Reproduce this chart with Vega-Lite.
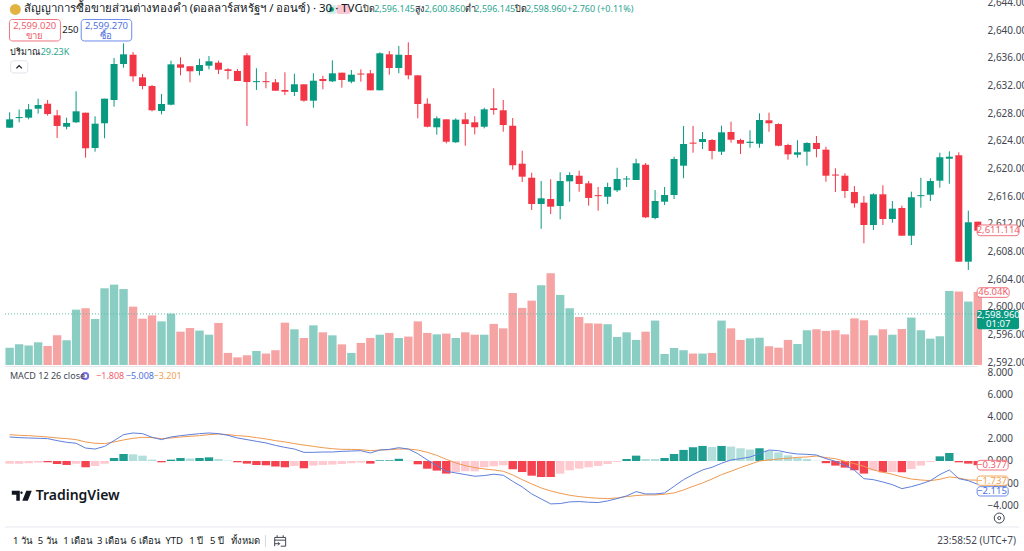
{"$schema":"https://vega.github.io/schema/vega-lite/v6.json","width":1024,"height":551,"autosize":{"type":"none"},"padding":0,"background":"#ffffff","config":{"view":{"stroke":null},"font":"Noto Sans"},
"datasets":{"bars":[
{"i":0,"o":2625.91,"h":2628.14,"l":2625.87,"c":2627.12,"v":10.9,"m":2.17,"s":2.38,"d":-0.25,"k":"rl"},
{"i":1,"o":2627.3,"h":2628.54,"l":2626.69,"c":2627.45,"v":13.0,"m":2.11,"s":2.32,"d":-0.25,"k":"rl"},
{"i":2,"o":2627.36,"h":2629.34,"l":2627.12,"c":2628.57,"v":12.2,"m":2.08,"s":2.29,"d":-0.2,"k":"rl"},
{"i":3,"o":2628.66,"h":2630.11,"l":2627.94,"c":2629.19,"v":14.3,"m":2.05,"s":2.23,"d":-0.15,"k":"rl"},
{"i":4,"o":2629.38,"h":2629.92,"l":2627.65,"c":2627.89,"v":12.0,"m":2.02,"s":2.17,"d":-0.12,"k":"rs"},
{"i":5,"o":2627.7,"h":2628.47,"l":2624.42,"c":2626.16,"v":18.7,"m":1.84,"s":2.08,"d":-0.27,"k":"rs"},
{"i":6,"o":2626.05,"h":2627.36,"l":2625.68,"c":2626.59,"v":15.6,"m":1.69,"s":2.02,"d":-0.36,"k":"rs"},
{"i":7,"o":2626.69,"h":2631.18,"l":2626.59,"c":2628.28,"v":34.9,"m":1.6,"s":1.93,"d":-0.25,"k":"rl"},
{"i":8,"o":2628.08,"h":2628.08,"l":2621.57,"c":2622.93,"v":35.8,"m":1.17,"s":1.72,"d":-0.57,"k":"rs"},
{"i":9,"o":2622.97,"h":2627.56,"l":2622.44,"c":2626.49,"v":29.0,"m":1.08,"s":1.6,"d":-0.45,"k":"rl"},
{"i":10,"o":2626.55,"h":2630.11,"l":2624.38,"c":2630.11,"v":48.4,"m":1.32,"s":1.57,"d":-0.25,"k":"rl"},
{"i":11,"o":2629.92,"h":2636.0,"l":2628.95,"c":2635.13,"v":50.7,"m":1.84,"s":1.72,"d":0.27,"k":"gs"},
{"i":12,"o":2635.13,"h":2638.12,"l":2634.59,"c":2636.53,"v":47.9,"m":2.38,"s":1.9,"d":0.63,"k":"gs"},
{"i":13,"o":2636.47,"h":2636.86,"l":2632.57,"c":2633.35,"v":36.8,"m":2.53,"s":2.05,"d":0.6,"k":"gl"},
{"i":14,"o":2633.2,"h":2633.68,"l":2631.47,"c":2631.94,"v":29.2,"m":2.47,"s":2.14,"d":0.48,"k":"gl"},
{"i":15,"o":2631.94,"h":2632.09,"l":2628.28,"c":2628.43,"v":31.3,"m":2.14,"s":2.11,"d":0.12,"k":"gl"},
{"i":16,"o":2628.33,"h":2630.79,"l":2627.85,"c":2629.34,"v":27.5,"m":1.93,"s":2.02,"d":-0.12,"k":"rs"},
{"i":17,"o":2629.24,"h":2635.61,"l":2629.15,"c":2635.08,"v":32.4,"m":2.17,"s":2.08,"d":0.12,"k":"gs"},
{"i":18,"o":2635.08,"h":2636.1,"l":2633.49,"c":2634.59,"v":21.0,"m":2.29,"s":2.17,"d":0.27,"k":"gs"},
{"i":19,"o":2634.8,"h":2634.8,"l":2632.48,"c":2634.07,"v":23.3,"m":2.38,"s":2.23,"d":0.22,"k":"gl"},
{"i":20,"o":2634.12,"h":2635.89,"l":2633.49,"c":2634.98,"v":21.7,"m":2.47,"s":2.29,"d":0.27,"k":"gs"},
{"i":21,"o":2634.88,"h":2636.29,"l":2634.36,"c":2635.52,"v":19.1,"m":2.53,"s":2.38,"d":0.33,"k":"gs"},
{"i":22,"o":2635.32,"h":2635.61,"l":2633.68,"c":2634.3,"v":26.5,"m":2.47,"s":2.44,"d":0.18,"k":"gl"},
{"i":23,"o":2634.36,"h":2634.51,"l":2632.91,"c":2634.12,"v":7.6,"m":2.32,"s":2.38,"d":0.04,"k":"gl"},
{"i":24,"o":2634.12,"h":2634.4,"l":2632.67,"c":2632.67,"v":4.8,"m":2.08,"s":2.29,"d":-0.12,"k":"rs"},
{"i":25,"o":2636.39,"h":2636.68,"l":2626.16,"c":2632.52,"v":6.1,"m":1.93,"s":2.23,"d":-0.24,"k":"rs"},
{"i":26,"o":2632.5,"h":2634.51,"l":2631.37,"c":2632.65,"v":8.8,"m":1.78,"s":2.11,"d":-0.36,"k":"rs"},
{"i":27,"o":2632.65,"h":2633.97,"l":2631.61,"c":2632.5,"v":7.2,"m":1.63,"s":1.99,"d":-0.39,"k":"rs"},
{"i":28,"o":2632.48,"h":2632.96,"l":2631.26,"c":2631.26,"v":9.3,"m":1.41,"s":1.84,"d":-0.5,"k":"rs"},
{"i":29,"o":2631.37,"h":2633.93,"l":2630.64,"c":2631.12,"v":26.7,"m":1.23,"s":1.72,"d":-0.57,"k":"rs"},
{"i":30,"o":2631.08,"h":2633.72,"l":2630.5,"c":2632.19,"v":22.5,"m":1.08,"s":1.57,"d":-0.45,"k":"rl"},
{"i":31,"o":2632.19,"h":2632.19,"l":2629.67,"c":2629.82,"v":17.0,"m":0.78,"s":1.44,"d":-0.66,"k":"rs"},
{"i":32,"o":2629.82,"h":2633.78,"l":2628.8,"c":2632.71,"v":25.0,"m":0.78,"s":1.32,"d":-0.42,"k":"rl"},
{"i":33,"o":2632.96,"h":2633.43,"l":2631.47,"c":2632.67,"v":20.6,"m":0.81,"s":1.2,"d":-0.36,"k":"rl"},
{"i":34,"o":2632.62,"h":2635.66,"l":2632.52,"c":2633.78,"v":18.7,"m":0.81,"s":1.11,"d":-0.33,"k":"rl"},
{"i":35,"o":2633.87,"h":2633.87,"l":2631.7,"c":2632.81,"v":13.0,"m":0.87,"s":1.05,"d":-0.27,"k":"rl"},
{"i":36,"o":2632.57,"h":2634.26,"l":2632.33,"c":2633.58,"v":7.6,"m":0.9,"s":1.05,"d":-0.2,"k":"rl"},
{"i":37,"o":2633.75,"h":2634.36,"l":2632.57,"c":2633.6,"v":13.9,"m":0.93,"s":1.02,"d":-0.15,"k":"rl"},
{"i":38,"o":2633.78,"h":2634.26,"l":2631.32,"c":2631.32,"v":17.0,"m":0.72,"s":0.93,"d":-0.24,"k":"rs"},
{"i":39,"o":2631.32,"h":2636.82,"l":2631.32,"c":2636.68,"v":19.1,"m":0.99,"s":0.99,"d":0.06,"k":"gs"},
{"i":40,"o":2636.53,"h":2637.01,"l":2633.58,"c":2634.55,"v":20.2,"m":1.05,"s":1.02,"d":0.06,"k":"gs"},
{"i":41,"o":2634.55,"h":2637.73,"l":2633.78,"c":2636.47,"v":17.0,"m":1.2,"s":1.08,"d":0.2,"k":"gs"},
{"i":42,"o":2636.43,"h":2638.27,"l":2632.91,"c":2633.49,"v":17.9,"m":1.08,"s":1.08,"d":0.03,"k":"gl"},
{"i":43,"o":2633.49,"h":2633.49,"l":2627.27,"c":2629.34,"v":27.5,"m":0.66,"s":0.99,"d":-0.3,"k":"rs"},
{"i":44,"o":2629.38,"h":2630.16,"l":2625.97,"c":2626.05,"v":20.2,"m":0.09,"s":0.78,"d":-0.7,"k":"rs"},
{"i":45,"o":2625.97,"h":2627.56,"l":2624.9,"c":2627.27,"v":19.3,"m":-0.42,"s":0.51,"d":-0.87,"k":"rs"},
{"i":46,"o":2627.12,"h":2627.12,"l":2623.65,"c":2623.88,"v":19.8,"m":-0.93,"s":0.15,"d":-1.14,"k":"rs"},
{"i":47,"o":2623.8,"h":2627.27,"l":2623.7,"c":2627.07,"v":17.0,"m":-1.08,"s":-0.18,"d":-1.0,"k":"rl"},
{"i":48,"o":2627.12,"h":2628.08,"l":2623.3,"c":2626.44,"v":20.6,"m":-1.23,"s":-0.42,"d":-0.93,"k":"rl"},
{"i":49,"o":2626.69,"h":2627.56,"l":2624.95,"c":2625.97,"v":19.1,"m":-1.38,"s":-0.6,"d":-0.93,"k":"rl"},
{"i":50,"o":2626.05,"h":2628.8,"l":2625.82,"c":2628.57,"v":19.1,"m":-1.32,"s":-0.72,"d":-0.57,"k":"rl"},
{"i":51,"o":2628.72,"h":2631.61,"l":2627.79,"c":2628.47,"v":25.9,"m":-1.2,"s":-0.81,"d":-0.48,"k":"rl"},
{"i":52,"o":2628.43,"h":2629.92,"l":2625.33,"c":2626.3,"v":23.1,"m":-1.29,"s":-0.93,"d":-0.39,"k":"rl"},
{"i":53,"o":2626.2,"h":2627.31,"l":2619.83,"c":2620.47,"v":45.4,"m":-1.84,"s":-1.26,"d":-0.75,"k":"rs"},
{"i":54,"o":2620.7,"h":2622.58,"l":2618.05,"c":2618.82,"v":36.0,"m":-2.35,"s":-1.69,"d":-1.0,"k":"rs"},
{"i":55,"o":2618.67,"h":2619.4,"l":2614.0,"c":2614.87,"v":40.6,"m":-2.98,"s":-2.08,"d":-1.33,"k":"rs"},
{"i":56,"o":2614.87,"h":2618.2,"l":2611.29,"c":2615.69,"v":50.3,"m":-3.43,"s":-2.44,"d":-1.45,"k":"rs"},
{"i":57,"o":2615.59,"h":2618.44,"l":2613.42,"c":2614.48,"v":57.8,"m":-3.88,"s":-2.71,"d":-1.45,"k":"rs"},
{"i":58,"o":2614.58,"h":2619.46,"l":2612.65,"c":2618.2,"v":44.2,"m":-3.85,"s":-2.92,"d":-1.14,"k":"rl"},
{"i":59,"o":2618.15,"h":2619.46,"l":2615.2,"c":2619.06,"v":35.8,"m":-3.7,"s":-3.1,"d":-0.84,"k":"rl"},
{"i":60,"o":2618.96,"h":2619.69,"l":2616.65,"c":2617.76,"v":30.3,"m":-3.67,"s":-3.22,"d":-0.69,"k":"rl"},
{"i":61,"o":2617.86,"h":2618.2,"l":2614.62,"c":2615.74,"v":26.3,"m":-3.73,"s":-3.31,"d":-0.57,"k":"rl"},
{"i":62,"o":2616.15,"h":2617.33,"l":2613.9,"c":2616.0,"v":26.1,"m":-3.76,"s":-3.37,"d":-0.45,"k":"rl"},
{"i":63,"o":2615.92,"h":2617.95,"l":2614.87,"c":2617.33,"v":25.7,"m":-3.61,"s":-3.4,"d":-0.27,"k":"rl"},
{"i":64,"o":2616.85,"h":2620.12,"l":2616.6,"c":2618.49,"v":17.7,"m":-3.4,"s":-3.34,"d":-0.09,"k":"rl"},
{"i":65,"o":2618.42,"h":2618.92,"l":2617.33,"c":2618.56,"v":20.6,"m":-3.16,"s":-3.22,"d":0.18,"k":"gs"},
{"i":66,"o":2618.34,"h":2621.42,"l":2618.34,"c":2620.76,"v":15.8,"m":-2.77,"s":-3.13,"d":0.48,"k":"gs"},
{"i":67,"o":2620.55,"h":2620.8,"l":2612.84,"c":2612.94,"v":21.0,"m":-2.98,"s":-3.07,"d":0.18,"k":"gl"},
{"i":68,"o":2612.84,"h":2616.89,"l":2612.65,"c":2615.3,"v":28.0,"m":-2.98,"s":-3.07,"d":0.18,"k":"gl"},
{"i":69,"o":2615.2,"h":2617.33,"l":2614.72,"c":2616.17,"v":6.9,"m":-2.89,"s":-3.01,"d":0.27,"k":"gs"},
{"i":70,"o":2616.17,"h":2621.71,"l":2615.59,"c":2621.38,"v":10.7,"m":-2.29,"s":-2.89,"d":0.63,"k":"gs"},
{"i":71,"o":2620.41,"h":2626.16,"l":2618.59,"c":2623.55,"v":9.3,"m":-1.69,"s":-2.62,"d":1.0,"k":"gs"},
{"i":72,"o":2623.75,"h":2626.16,"l":2622.29,"c":2623.6,"v":7.2,"m":-1.23,"s":-2.29,"d":1.24,"k":"gs"},
{"i":73,"o":2623.84,"h":2625.29,"l":2622.83,"c":2624.27,"v":7.2,"m":-0.81,"s":-1.99,"d":1.36,"k":"gs"},
{"i":74,"o":2624.13,"h":2624.27,"l":2621.34,"c":2622.54,"v":7.6,"m":-0.57,"s":-1.63,"d":1.27,"k":"gl"},
{"i":75,"o":2622.44,"h":2626.2,"l":2621.96,"c":2625.24,"v":28.0,"m":-0.21,"s":-1.23,"d":1.36,"k":"gs"},
{"i":76,"o":2625.29,"h":2626.78,"l":2623.74,"c":2624.17,"v":23.1,"m":0.09,"s":-0.93,"d":1.3,"k":"gl"},
{"i":77,"o":2624.13,"h":2624.32,"l":2622.1,"c":2623.59,"v":15.8,"m":0.21,"s":-0.6,"d":1.15,"k":"gl"},
{"i":78,"o":2623.7,"h":2625.53,"l":2623.01,"c":2623.88,"v":16.8,"m":0.36,"s":-0.3,"d":1.03,"k":"gl"},
{"i":79,"o":2623.59,"h":2627.99,"l":2623.01,"c":2627.02,"v":17.2,"m":0.66,"s":0.0,"d":1.15,"k":"gs"},
{"i":80,"o":2626.98,"h":2628.08,"l":2625.33,"c":2626.55,"v":11.8,"m":0.99,"s":0.09,"d":0.93,"k":"gl"},
{"i":81,"o":2626.44,"h":2626.55,"l":2623.22,"c":2623.3,"v":10.9,"m":0.93,"s":0.18,"d":0.78,"k":"gl"},
{"i":82,"o":2623.41,"h":2623.59,"l":2621.28,"c":2622.06,"v":15.8,"m":0.75,"s":0.24,"d":0.51,"k":"gl"},
{"i":83,"o":2622.0,"h":2624.09,"l":2621.57,"c":2622.35,"v":13.2,"m":0.63,"s":0.33,"d":0.27,"k":"gl"},
{"i":84,"o":2622.44,"h":2623.8,"l":2620.41,"c":2623.7,"v":21.9,"m":0.6,"s":0.36,"d":0.18,"k":"gl"},
{"i":85,"o":2623.7,"h":2624.71,"l":2621.63,"c":2622.83,"v":22.5,"m":0.54,"s":0.45,"d":0.03,"k":"gl"},
{"i":86,"o":2622.73,"h":2623.16,"l":2618.09,"c":2618.96,"v":21.5,"m":0.21,"s":0.3,"d":-0.2,"k":"rs"},
{"i":87,"o":2619.13,"h":2620.03,"l":2616.6,"c":2618.98,"v":21.9,"m":-0.03,"s":0.21,"d":-0.42,"k":"rs"},
{"i":88,"o":2618.96,"h":2619.31,"l":2615.74,"c":2616.75,"v":19.3,"m":-0.39,"s":-0.03,"d":-0.6,"k":"rs"},
{"i":89,"o":2616.6,"h":2617.47,"l":2614.33,"c":2614.97,"v":29.4,"m":-0.84,"s":-0.24,"d":-0.84,"k":"rs"},
{"i":90,"o":2615.06,"h":2616.02,"l":2609.18,"c":2611.83,"v":28.2,"m":-1.6,"s":-0.48,"d":-1.14,"k":"rs"},
{"i":91,"o":2611.83,"h":2616.42,"l":2611.1,"c":2616.27,"v":18.7,"m":-1.69,"s":-0.81,"d":-0.87,"k":"rl"},
{"i":92,"o":2616.27,"h":2617.57,"l":2611.83,"c":2612.7,"v":22.5,"m":-1.9,"s":-1.02,"d":-1.02,"k":"rs"},
{"i":93,"o":2612.7,"h":2615.3,"l":2612.16,"c":2614.19,"v":19.1,"m":-2.14,"s":-1.2,"d":-1.0,"k":"rl"},
{"i":94,"o":2614.29,"h":2614.62,"l":2610.28,"c":2610.28,"v":22.7,"m":-2.5,"s":-1.44,"d":-1.02,"k":"rs"},
{"i":95,"o":2610.28,"h":2616.65,"l":2608.93,"c":2615.84,"v":29.9,"m":-2.32,"s":-1.63,"d":-0.72,"k":"rl"},
{"i":96,"o":2616.0,"h":2618.67,"l":2614.33,"c":2616.15,"v":21.9,"m":-2.08,"s":-1.72,"d":-0.42,"k":"rl"},
{"i":97,"o":2616.21,"h":2618.59,"l":2615.3,"c":2618.2,"v":16.6,"m":-1.78,"s":-1.78,"d":-0.09,"k":"rl"},
{"i":98,"o":2618.24,"h":2622.29,"l":2617.23,"c":2621.63,"v":18.1,"m":-1.23,"s":-1.66,"d":0.42,"k":"gs"},
{"i":99,"o":2621.42,"h":2622.49,"l":2617.8,"c":2621.71,"v":46.7,"m":-0.81,"s":-1.44,"d":0.72,"k":"gs"},
{"i":100,"o":2621.92,"h":2622.35,"l":2606.52,"c":2606.52,"v":46.3,"m":-1.6,"s":-1.54,"d":-0.12,"k":"rs"},
{"i":101,"o":2606.52,"h":2613.9,"l":2605.32,"c":2612.22,"v":40.0,"m":-1.78,"s":-1.72,"d":-0.24,"k":"rs"},
{"i":102,"o":2612.31,"h":2612.31,"l":2610.8,"c":2611.0,"v":46.04,"m":-2.115,"s":-1.737,"d":-0.377,"k":"rs"}
]},
"resolve":{"scale":{"y":"independent","color":"independent","stroke":"independent"}},
"layer":[
{"data":{"name":"bars"},"mark":{"type":"bar","orient":"vertical","width":8.4},"encoding":{
"x":{"field":"i","type":"quantitative","scale":{"domain":[-0.49,106.34],"nice":false,"zero":false},"title":null,
"axis":{"orient":"bottom","offset":-39,"values":[3,9,15,25,31,37,43,49,55,61,71,77,83,89,95,101],"labelExpr":"{'3':'18:00','9':'21:00','15':'27','25':'06:00','31':'09:00','37':'12:00','43':'15:00','49':'18:00','55':'21:00','61':'28','71':'30','77':'09:00','83':'12:00','89':'15:00','95':'18:00','101':'21:00'}[datum.value]","domain":false,"ticks":false,"grid":false,"labelFontSize":9.5,"labelColor":"#434651","labelPadding":2,"labelOverlap":false,"labelFlush":false,"labelBound":false,"title":null}},
"y":{"field":"v","type":"quantitative","scale":{"domain":[-117.4,230.3],"nice":false},"axis":null},
"color":{"condition":{"test":"datum.c>=datum.o","value":"#8ACDC3"},"value":"#F6A3A4"}}},
{"layer":[
{"data":{"values":[{"last":2598.96,"from":-0.49,"to":101.93}]},"mark":{"type":"rule","stroke":"#5FB8A6","strokeDash":[1,2],"strokeWidth":1},"encoding":{"x":{"field":"from","type":"quantitative","axis":null},"x2":{"field":"to"},"y":{"field":"last","type":"quantitative","axis":{"orient":"right","offset":-39,"values":[2592,2596,2600,2604,2608,2612,2616,2620,2624,2628,2632,2636,2640,2644],"format":",.3f","domain":false,"ticks":false,"grid":false,"labelFontSize":10,"labelColor":"#434651","labelPadding":2,"labelOverlap":false,"labelFlush":false,"labelBound":false,"title":null},"scale":{"domain":[2564.65,2644.39],"nice":false,"zero":false},"title":null}}},
{"data":{"name":"bars"},"mark":{"type":"rule","strokeWidth":1},"encoding":{"x":{"field":"i","type":"quantitative","axis":null},"y":{"field":"l","type":"quantitative","title":null},"y2":{"field":"h"},"color":{"condition":{"test":"datum.c>=datum.o","value":"#089981"},"value":"#F23645"}}},
{"data":{"name":"bars"},"mark":{"type":"bar","orient":"vertical","width":7},"encoding":{"x":{"field":"i","type":"quantitative","axis":null},"y":{"field":"o","type":"quantitative","title":null},"y2":{"field":"c"},"color":{"condition":{"test":"datum.c>=datum.o","value":"#089981"},"value":"#F23645"}}}
]},
{"layer":[
{"data":{"name":"bars"},"mark":{"type":"bar","orient":"vertical","width":8.4},"encoding":{"x":{"field":"i","type":"quantitative","axis":null},"y":{"field":"d","type":"quantitative","scale":{"domain":[-8.14,41.68],"nice":false},"axis":{"orient":"right","offset":-39,"values":[8,6,4,2,0,-2,-4],"format":".3f","domain":false,"ticks":false,"grid":false,"labelFontSize":10,"labelColor":"#434651","labelPadding":2,"labelOverlap":false,"labelFlush":false,"labelBound":false,"title":null},"title":null},"color":{"field":"k","type":"nominal","legend":null,"scale":{"domain":["gs","gl","rs","rl"],"range":["#1F9D90","#B2DFDB","#F5424F","#FFC9D0"]}}}},
{"data":{"name":"bars"},"mark":{"type":"line","stroke":"#EF9A50","strokeWidth":1},"encoding":{"x":{"field":"i","type":"quantitative","axis":null},"y":{"field":"s","type":"quantitative","title":null}}},
{"data":{"name":"bars"},"mark":{"type":"line","stroke":"#5F7FDB","strokeWidth":1},"encoding":{"x":{"field":"i","type":"quantitative","axis":null},"y":{"field":"m","type":"quantitative","title":null}}}
]},
{"encoding":{"x":{"field":"i","type":"quantitative","axis":null},"y":{"field":"p","type":"quantitative","axis":null,"scale":{"domain":[2564.65,2644.39],"nice":false,"zero":false}}},
"layer":[
{"data":{"values":[{"from":-0.49,"to":106.34,"p":2568.13},{"from":-0.49,"to":101.93,"p":2591.35}]},"mark":{"type":"rule","stroke":"#E6E8EF","strokeWidth":1},"encoding":{"x":{"field":"from","type":"quantitative","axis":null},"x2":{"field":"to"}}},
{"data":{"values":[{"i":26.95,"p":2566.96,"p2":2565.23}]},"mark":{"type":"rule","stroke":"#D6D8E0","strokeWidth":1},"encoding":{"y2":{"field":"p2"}}},
{"data":{"values":[{"i0":-0.02,"i1":5.35,"p":2641.57,"p2":2638.46,"tone":"sell"},{"i0":7.54,"i1":12.86,"p":2641.57,"p2":2638.46,"tone":"buy"},{"i0":0.1,"i1":1.91,"p":2635.6,"p2":2633.83,"tone":"soft"},{"i0":101.93,"i1":106.34,"p":2611.83,"p2":2610.28,"tone":"sell"},{"i0":101.93,"i1":105.3,"p":2602.75,"p2":2601.36,"tone":"sell"},{"i0":101.93,"i1":105.2,"p":2577.77,"p2":2576.37,"tone":"sell"},{"i0":101.93,"i1":105.2,"p":2575.5,"p2":2574.16,"tone":"orange"},{"i0":101.93,"i1":105.2,"p":2573.96,"p2":2572.61,"tone":"buy"}]},"mark":{"type":"rect","fill":"#ffffff","cornerRadius":3,"strokeWidth":1},"encoding":{"x":{"field":"i0","type":"quantitative","axis":null},"x2":{"field":"i1"},"y2":{"field":"p2"},"stroke":{"field":"tone","type":"nominal","legend":null,"scale":{"domain":["sell","buy","soft","orange"],"range":["#F0747F","#6C8BEB","#E0E3EB","#F2A65A"]}}}},
{"data":{"values":[{"i0":101.93,"i1":106.34,"p":2599.53,"p2":2596.73,"tone":"up"},{"i0":33.4,"i1":34.45,"p":2643.67,"p2":2642.36,"tone":"pale"},{"i0":34.45,"i1":35.9,"p":2643.67,"p2":2642.36,"tone":"rose"}]},"mark":{"type":"rect","cornerRadius":2},"encoding":{"x":{"field":"i0","type":"quantitative","axis":null},"x2":{"field":"i1"},"y2":{"field":"p2"},"color":{"field":"tone","type":"nominal","legend":null,"scale":{"domain":["up","pale","rose","ink","grey","green","red","blue","orange","white","sell","gold"],"range":["#089981","#D6F0EB","#FAC6D2","#131722","#434651","#2BA58F","#F0606C","#4F72DE","#F0A050","#ffffff","#F0606C","#E3B341"]}}}},
{"data":{"values":[{"i":0.6,"p":2643.02,"tone":"gold"}]},"mark":{"type":"point","filled":true,"shape":"circle","size":120,"opacity":1},"encoding":{"color":{"field":"tone","type":"nominal","legend":null}}},
{"data":{"values":[{"i":33.92,"p":2643.02,"tone":"up"}]},"mark":{"type":"point","filled":true,"shape":"circle","size":22,"opacity":1},"encoding":{"color":{"field":"tone","type":"nominal","legend":null}}},
{"data":{"values":[{"i":7.96,"p":2589.98,"tone":"buy"}]},"mark":{"type":"point","filled":false,"shape":"circle","size":36,"strokeWidth":2,"stroke":"#7B6FE0","opacity":1}},
{"data":{"values":[{"i":104.26,"p":2569.42}]},"mark":{"type":"point","filled":false,"shape":"circle","size":100,"strokeWidth":1,"stroke":"#434651","opacity":1}},
{"data":{"values":[{"i":104.26,"p":2569.42}]},"mark":{"type":"point","filled":false,"shape":"circle","size":9,"strokeWidth":1,"stroke":"#434651","opacity":1}},
{"data":{"values":[{"i":1.0,"p":2634.7}]},"mark":{"type":"point","filled":false,"shape":"M-1,0.5L0,-0.5L1,0.5","size":30,"strokeWidth":1.2,"stroke":"#131722","opacity":1}},
{"data":{"values":[{"i":1.28,"p":2572.65}]},"mark":{"type":"point","filled":true,"shape":"M-1,-0.5H-0.2V0.5H-0.55V-0.1H-1ZM-0.03,-0.42A0.12,0.12,0,1,1,-0.03,-0.18A0.12,0.12,0,1,1,-0.03,-0.42ZM0.45,-0.5H1L0.6,0.5H0.05Z","size":400,"color":"#131722","opacity":1}},
{"data":{"values":[{"i":28.5,"p":2566.14}]},"mark":{"type":"point","filled":false,"shape":"M-1,-0.6H1V1H0.1M-1,1V-0.6M-1,-0.1H1M-0.55,-1V-0.6M0.55,-1V-0.6M-1,0.55H-0.1M-0.4,0.25L-0.1,0.55L-0.4,0.85","size":120,"strokeWidth":1,"stroke":"#434651","opacity":1}},
{"data":{"values":[{"i":1.49,"p":2643.02,"t":"สัญญาการซื้อขายส่วนต่างทองคำ (ดอลลาร์สหรัฐฯ / ออนซ์) · 30 · TVC"}]},"mark":{"type":"text","align":"left","baseline":"middle","fontSize":11.5,"color":"#131722"},"encoding":{"text":{"field":"t"}}},
{"data":{"values":[{"i":36.96,"p":2643.02,"t":"เปิด","tone":"ink"},{"i":38.4,"p":2643.02,"t":"2,596.145","tone":"green"},{"i":42.7,"p":2643.02,"t":"สูง","tone":"ink"},{"i":43.7,"p":2643.02,"t":"2,600.860","tone":"green"},{"i":47.97,"p":2643.02,"t":"ต่ำ","tone":"ink"},{"i":48.96,"p":2643.02,"t":"2,596.145","tone":"green"},{"i":53.24,"p":2643.02,"t":"ปิด","tone":"ink"},{"i":54.39,"p":2643.02,"t":"2,598.960","tone":"green"},{"i":58.72,"p":2643.02,"t":"+2.760 (+0.11%)","tone":"green"},{"i":0.03,"p":2636.86,"t":"ปริมาณ","tone":"ink"},{"i":3.27,"p":2636.86,"t":"29.23K","tone":"green"},{"i":0.03,"p":2589.98,"t":"MACD 12 26 close","tone":"grey"},{"i":9.11,"p":2589.98,"t":"−1.808","tone":"red"},{"i":12.24,"p":2589.98,"t":"−5.008","tone":"blue"},{"i":15.16,"p":2589.98,"t":"−3.201","tone":"orange"}]},"mark":{"type":"text","align":"left","baseline":"middle","fontSize":9},"encoding":{"text":{"field":"t"},"color":{"field":"tone","type":"nominal","legend":null}}},
{"data":{"values":[{"i":2.64,"p":2640.63,"t":"2,599.020","tone":"red"},{"i":2.64,"p":2639.25,"t":"ขาย","tone":"red"},{"i":10.2,"p":2640.63,"t":"2,599.270","tone":"blue"},{"i":10.2,"p":2639.25,"t":"ซื้อ","tone":"blue"},{"i":6.4,"p":2640.05,"t":"250","tone":"ink"},{"i":104.15,"p":2611.114,"t":"2,611.114","tone":"red"},{"i":103.63,"p":2602.06,"t":"46.04K","tone":"red"},{"i":104.15,"p":2598.85,"t":"2,598.960","tone":"white"},{"i":104.15,"p":2597.54,"t":"01:07","tone":"white"},{"i":103.5,"p":2577.09,"t":"−0.377","tone":"red"},{"i":103.5,"p":2574.82,"t":"−1.737","tone":"orange"},{"i":103.5,"p":2573.29,"t":"−2.115","tone":"blue"}]},"mark":{"type":"text","align":"center","baseline":"middle","fontSize":9.5},"encoding":{"text":{"field":"t"},"color":{"field":"tone","type":"nominal","legend":null}}},
{"data":{"values":[{"i":2.74,"p":2572.65,"t":"TradingView"}]},"mark":{"type":"text","align":"left","baseline":"middle","fontSize":14,"fontWeight":600,"color":"#131722"},"encoding":{"text":{"field":"t"}}},
{"data":{"values":[{"i":0.34,"p":2566.14,"t":"1 วัน"},{"i":2.95,"p":2566.14,"t":"5 วัน"},{"i":5.66,"p":2566.14,"t":"1 เดือน"},{"i":9.21,"p":2566.14,"t":"3 เดือน"},{"i":12.76,"p":2566.14,"t":"6 เดือน"},{"i":16.41,"p":2566.14,"t":"YTD"},{"i":18.91,"p":2566.14,"t":"1 ปี"},{"i":21.11,"p":2566.14,"t":"5 ปี"},{"i":23.3,"p":2566.14,"t":"ทั้งหมด"}]},"mark":{"type":"text","align":"left","baseline":"middle","fontSize":9.5,"color":"#131722"},"encoding":{"text":{"field":"t"}}},
{"data":{"values":[{"i":106.03,"p":2566.14,"t":"23:58:52 (UTC+7)"}]},"mark":{"type":"text","align":"right","baseline":"middle","fontSize":10,"color":"#434651"},"encoding":{"text":{"field":"t"}}}
]}
]}
